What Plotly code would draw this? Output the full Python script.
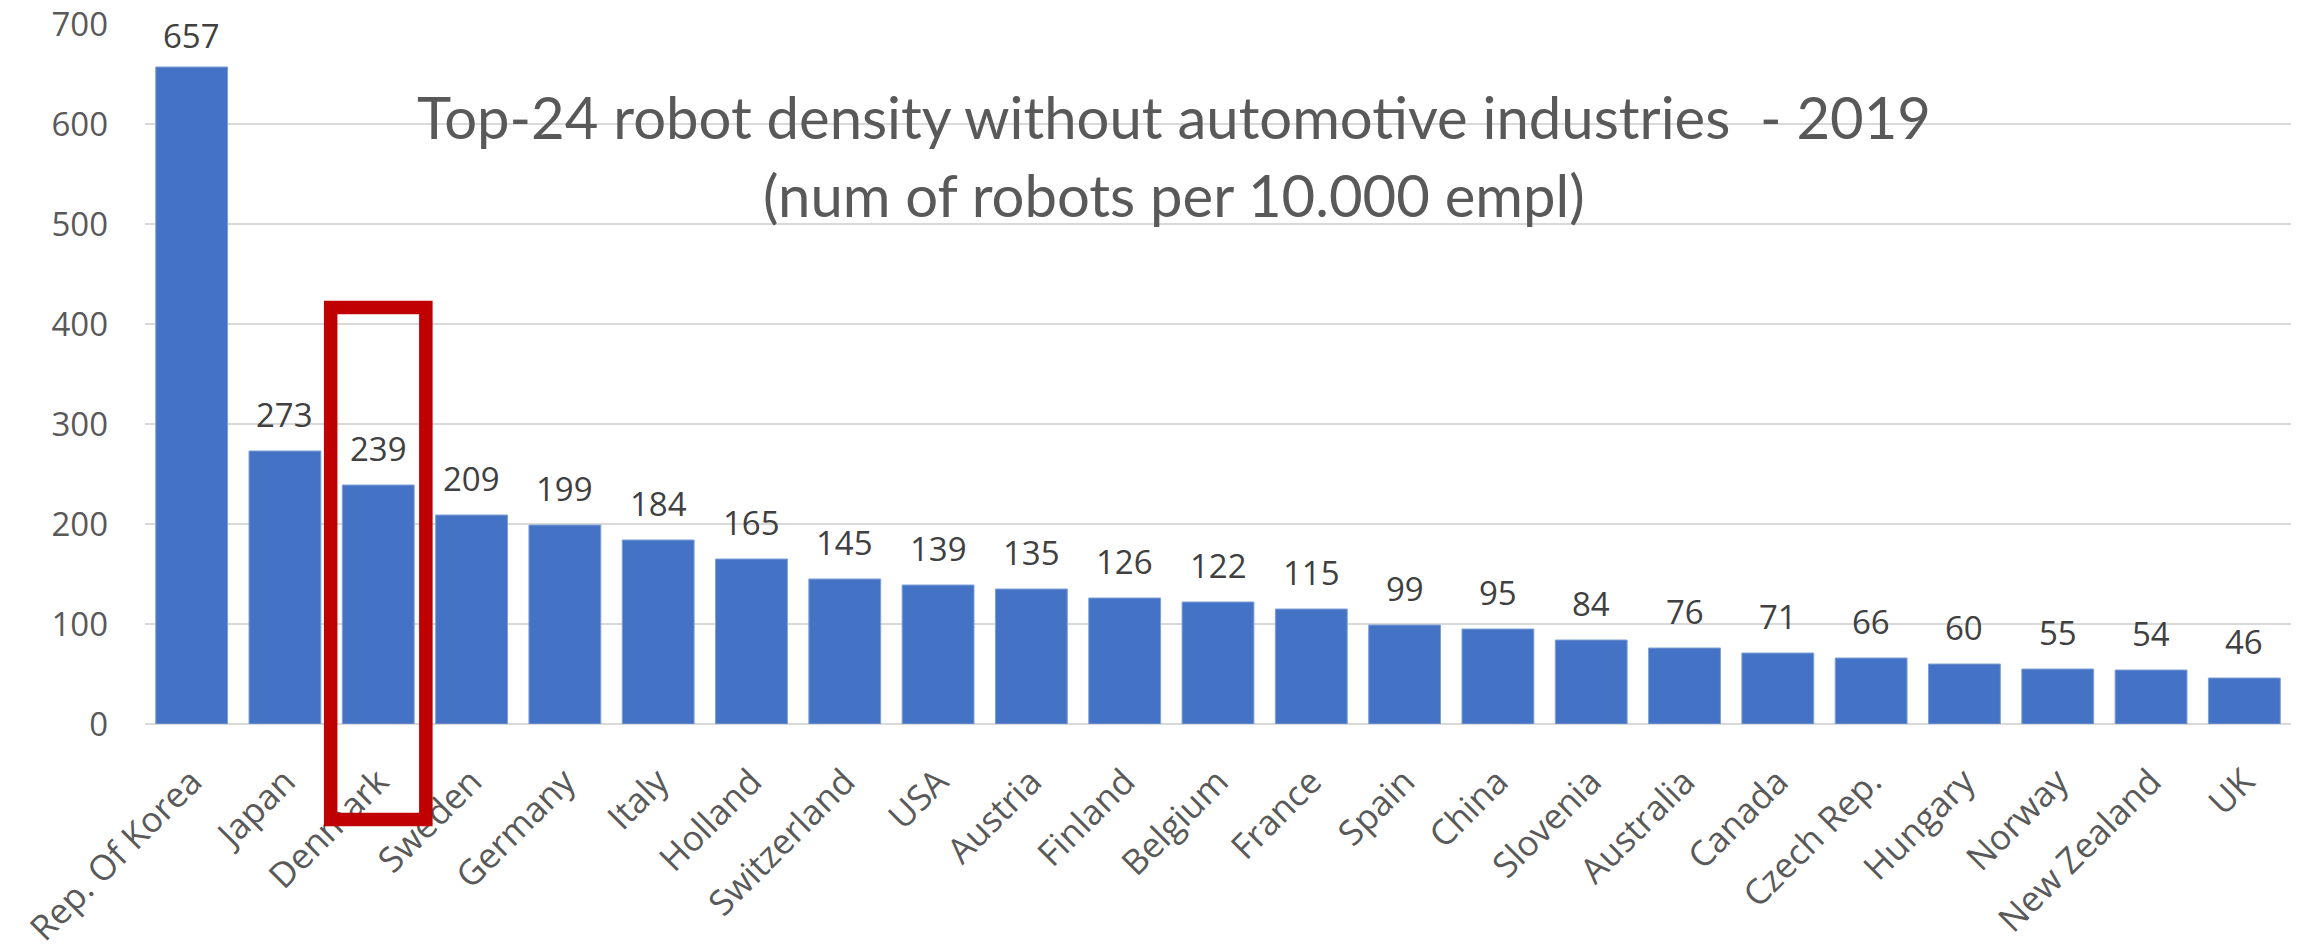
import plotly.graph_objects as go

countries = ["Rep. Of Korea", "Japan", "Denmark", "Sweden", "Germany", "Italy", "Holland",
             "Switzerland", "USA", "Austria", "Finland", "Belgium", "France", "Spain", "China",
             "Slovenia", "Australia", "Canada", "Czech Rep.", "Hungary", "Norway", "New Zealand", "UK"]
density = [657, 273, 239, 209, 199, 184, 165, 145, 139, 135, 126, 122, 115, 99, 95, 84, 76, 71, 66, 60, 55, 54, 46]
y_ticks = [0, 100, 200, 300, 400, 500, 600, 700]
title_lines = ["Top-24 robot density without automotive industries  - 2019",
               "(num of robots per 10.000 empl)"]
highlight = "Denmark"

label_font = "Open Sans, Segoe UI, DejaVu Sans, sans-serif"
y_max = y_ticks[-1]

fig = go.Figure(go.Bar(
    x=countries,
    y=density,
    marker=dict(color="#4472C4", line=dict(color="#7F9FD8", width=1)),
    cliponaxis=False,
    hoverinfo="x+y",
))

# data labels (kept inside the plot area, like the original spreadsheet chart)
for c, v in zip(countries, density):
    fig.add_annotation(x=c, y=v, xref="x", yref="y", text=str(v), showarrow=False,
                       xanchor="center", yanchor="bottom", yshift=min(12, y_max - v - 36),
                       font=dict(family=label_font, size=33, color="#404040"))

hi = countries.index(highlight)
fig.add_shape(type="rect", xref="x", yref="y domain",
              x0=hi - 0.51, x1=hi + 0.51, y0=-95.5 / 700, y1=416.5 / 700,
              line=dict(color="#C00000", width=13.5), fillcolor="rgba(0,0,0,0)", layer="above")

for line, ypos in zip(title_lines, [0.868, 0.757]):
    fig.add_annotation(xref="paper", yref="paper", x=0.4795, y=ypos, xanchor="center", yanchor="middle",
                       text=line, showarrow=False,
                       font=dict(family="Lato, Open Sans, sans-serif", size=58, color="#595959"))

fig.update_layout(
    width=2306, height=952,
    margin=dict(l=145, r=15, t=24, b=228, autoexpand=False),
    paper_bgcolor="white", plot_bgcolor="white",
    bargap=0.23,
    showlegend=False,
    font=dict(family=label_font, color="#595959"),
)
fig.update_xaxes(tickangle=-45, tickfont=dict(family=label_font, size=35, color="#595959"),
                 showgrid=False, ticks="", showline=False, ticklabelstandoff=29, automargin=False)
fig.update_yaxes(range=[0, 700], tickvals=y_ticks, tickfont=dict(family=label_font, size=33, color="#595959"),
                 showgrid=True, gridcolor="#D9D9D9", gridwidth=2, zeroline=True, zerolinecolor="#D9D9D9",
                 zerolinewidth=2, ticks="", ticklabelstandoff=36, showline=False, automargin=False)

fig.write_html("out.html")
